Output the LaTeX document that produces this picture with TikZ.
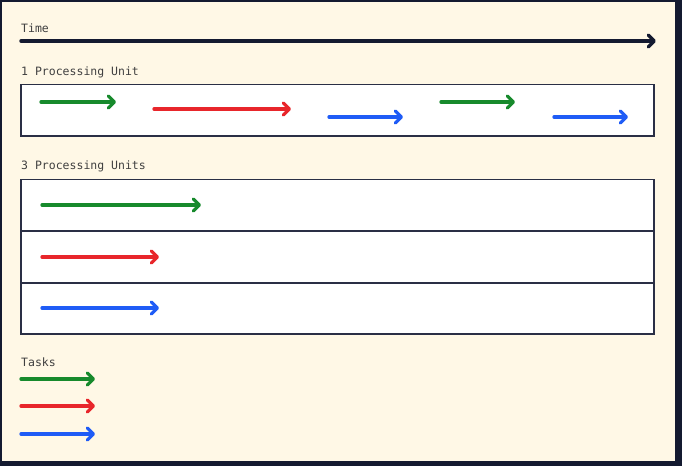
\documentclass[tikz,border=0pt]{standalone}
\usepackage{fontspec}
\setmonofont{DejaVu Sans Mono}
\usetikzlibrary{arrows.meta}
\definecolor{navy}{HTML}{141A30}
\definecolor{cream}{HTML}{FFF8E6}
\definecolor{boxline}{HTML}{2A2F45}
\definecolor{tgreen}{HTML}{178A2C}
\definecolor{tred}{HTML}{E8262B}
\definecolor{tblue}{HTML}{1F5CF6}
\definecolor{txt}{HTML}{404040}
\tikzset{
  task/.style={line width=3.3pt, line cap=round, -{Straight Barb[round,length=6pt,width=12pt]}},
  timearrow/.style={navy, line width=3.5pt, line cap=round, -{Straight Barb[round,length=6pt,width=12pt]}},
  lbl/.style={anchor=base west, inner sep=0pt, text=txt, font=\ttfamily\fontsize{11.5}{13}\selectfont},
  unitbox/.style={draw=boxline, line width=1.3pt, fill=white},
}
\begin{document}
\begin{tikzpicture}[x=1pt,y=-1pt]
\fill[navy] (0,0) rectangle (682,466);
\fill[cream] (1.5,1.5) rectangle (675,461);
\useasboundingbox (0,0) rectangle (682,466);

% Time
\node[lbl] (tlabel) at (21,32) {Time};
\coordinate (t0) at (21,41);
\coordinate (t1) at (656,41);
\draw[timearrow] (t0) -- (t1);

% 1 processing unit
\node[lbl] (l1) at (21,75.5) {1 Processing Unit};
\draw[unitbox] (21,84.5) rectangle (654,136);
\draw[task,tgreen] (41,102) -- (116,102);
\draw[task,tred] (154,109) -- (291,109);
\draw[task,tblue] (329,117) -- (403,117);
\draw[task,tgreen] (441,102) -- (515,102);
\draw[task,tblue] (554,117) -- (628,117);

% 3 processing units
\node[lbl] (l3) at (21,169) {3 Processing Units};
\draw[unitbox] (21,179.5) rectangle (654,231);
\draw[unitbox] (21,231) rectangle (654,283);
\draw[unitbox] (21,283) rectangle (654,334);
\draw[task,tgreen] (42,205) -- (201,205);
\draw[task,tred] (42,257) -- (159,257);
\draw[task,tblue] (42,308) -- (159,308);

% legend
\node[lbl] (tasks) at (21,366.5) {Tasks};
\draw[task,tgreen] (21,379) -- (95,379);
\draw[task,tred] (21,406) -- (95,406);
\draw[task,tblue] (21,434) -- (95,434);
\end{tikzpicture}
\end{document}
